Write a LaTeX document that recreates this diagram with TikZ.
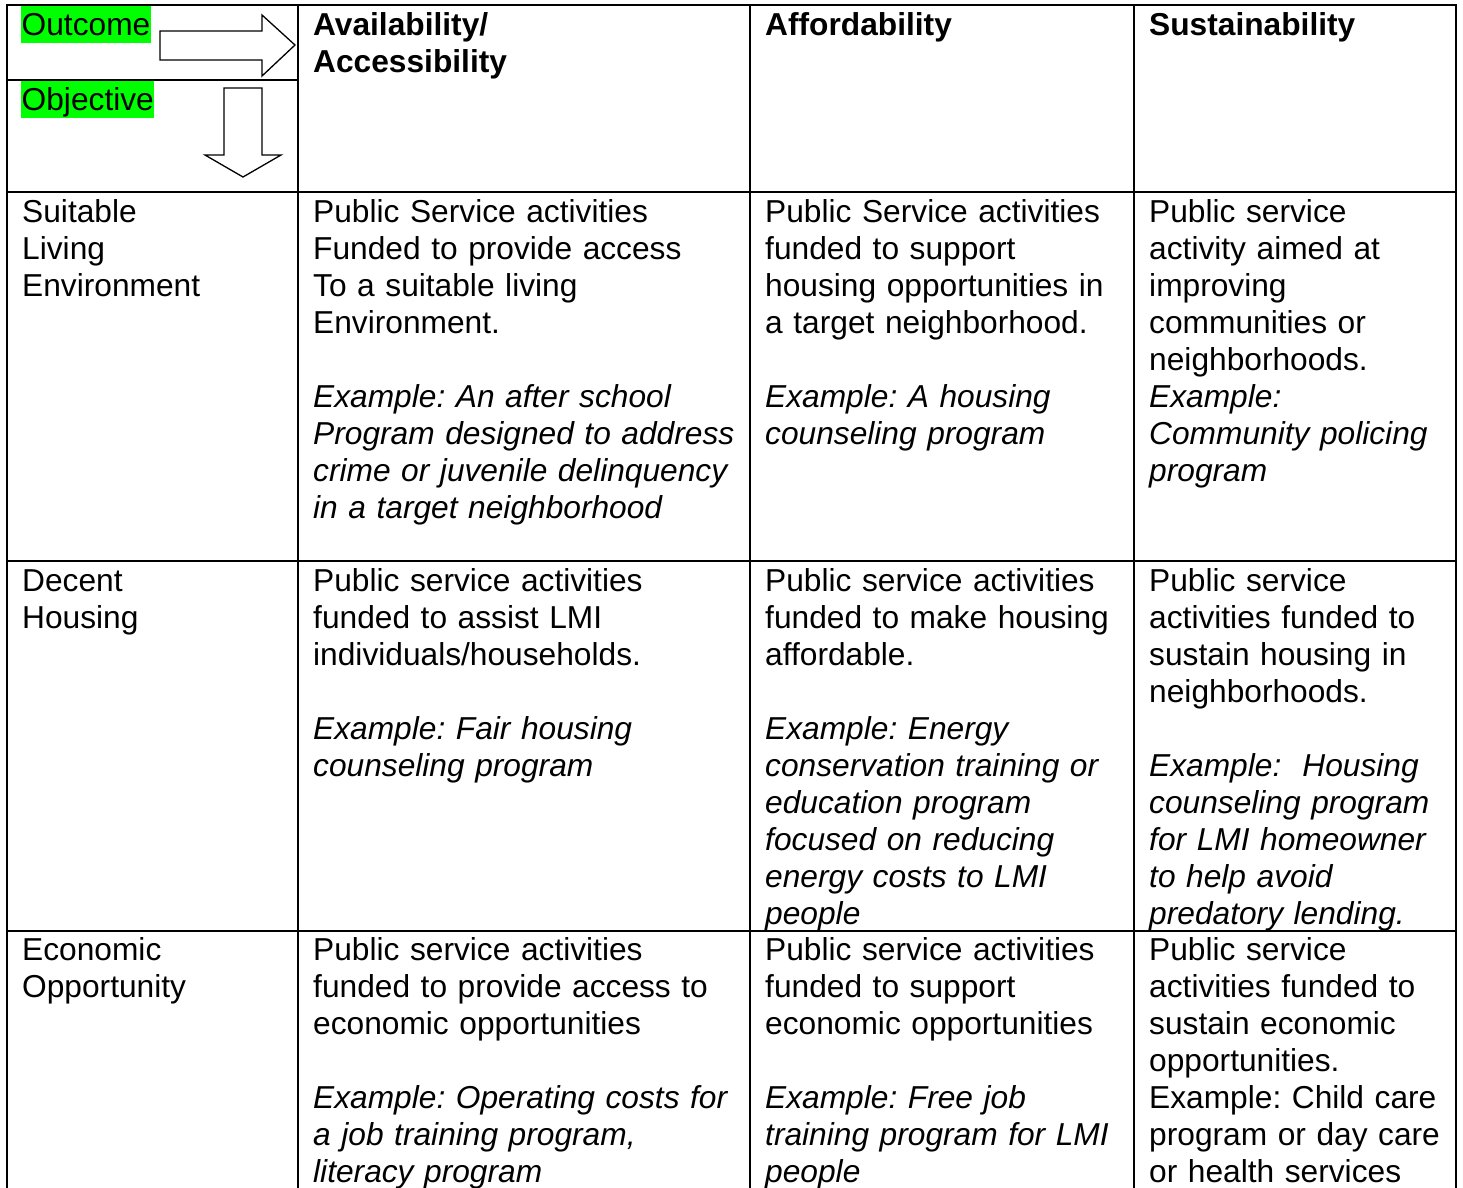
\documentclass[tikz,border=0pt]{standalone}
\usepackage{fontspec}
\setmainfont{Liberation Sans}
\definecolor{hlgreen}{RGB}{0,255,0}
\newcommand\firststrut{\rule{0pt}{29pt}}
\setlength\parindent{0pt}
\frenchspacing
\begin{document}
\frenchspacing
\begin{tikzpicture}[x=1pt,y=-1pt,
  grid/.style={line width=2pt, line cap=rect},
  arrowshape/.style={draw, line width=1.3pt, fill=white, line join=miter},
  cell/.style={anchor=north west, inner sep=0pt, text width=#1, align=left,
    font=\fontsize{31.7}{37}\selectfont\frenchspacing},
  hl/.style={anchor=north west, fill=hlgreen, inner ysep=0pt, inner xsep=0.5pt,
    text height=29pt, text depth=8pt, font=\fontsize{31.7}{37}\selectfont}]
\useasboundingbox (0,0) rectangle (1463,1187);
\fill[white] (0,0) rectangle (1463,1187);

% grid
\draw[grid] (7,1195) -- (7,5) -- (1456,5) -- (1456,1195);
\draw[grid] (298,5) -- (298,1195);
\draw[grid] (750,5) -- (750,1195);
\draw[grid] (1134,5) -- (1134,1195);
\draw[grid] (7,80) -- (298,80);
\draw[grid] (7,192) -- (1456,192);
\draw[grid] (7,561) -- (1456,561);
\draw[grid] (7,931) -- (1456,931);

% corner labels and arrows
\node[hl] (outcome) at (21,6) {Outcome};
\node[hl] (objective) at (21,81) {Objective};
\draw[arrowshape] (160,31) -- (262,31) -- (262,15) -- (295,45) -- (262,76) -- (262,60) -- (160,60) -- cycle;
\draw[arrowshape] (224,88) -- (262,88) -- (262,155) -- (281,155) -- (243,177) -- (205,155) -- (224,155) -- cycle;

% header
\node[cell=430pt] (hA) at (313,6) {\bfseries\firststrut Availability/\\Accessibility};
\node[cell=370pt] (hB) at (765,6) {\bfseries\firststrut Affordability};
\node[cell=310pt] (hC) at (1149,6) {\bfseries\firststrut Sustainability};

% row 1
\node[cell=270pt] (r1c1) at (22,193) {\firststrut Suitable\\Living\\Environment};
\node[cell=440pt] (r1c2) at (313,193) {\firststrut Public Service activities\\Funded to provide access\\To a suitable living\\Environment.\\[37pt]\itshape Example: An after school\\Program designed to address\\crime or juvenile delinquency\\in a target neighborhood};
\node[cell=380pt] (r1c3) at (765,193) {\firststrut Public Service activities\\funded to support\\housing opportunities in\\a target neighborhood.\\[37pt]\itshape Example: A housing\\counseling program};
\node[cell=310pt] (r1c4) at (1149,193) {\firststrut Public service\\activity aimed at\\improving\\communities or\\neighborhoods.\\\itshape Example:\\Community policing\\program};

% row 2
\node[cell=270pt] (r2c1) at (22,562) {\firststrut Decent\\Housing};
\node[cell=440pt] (r2c2) at (313,562) {\firststrut Public service activities\\funded to assist LMI\\individuals/households.\\[37pt]\itshape Example: Fair housing\\counseling program};
\node[cell=380pt] (r2c3) at (765,562) {\firststrut Public service activities\\funded to make housing\\affordable.\\[37pt]\itshape Example: Energy\\conservation training or\\education program\\focused on reducing\\energy costs to LMI\\people};
\node[cell=310pt] (r2c4) at (1149,562) {\firststrut Public service\\activities funded to\\sustain housing in\\neighborhoods.\\[37pt]\itshape Example:\ \ Housing\\counseling program\\for LMI homeowner\\to help avoid\\predatory lending.};

% row 3
\node[cell=270pt] (r3c1) at (22,931) {\firststrut Economic\\Opportunity};
\node[cell=440pt] (r3c2) at (313,931) {\firststrut Public service activities\\funded to provide access to\\economic opportunities\\[37pt]\itshape Example: Operating costs for\\a job training program,\\literacy program};
\node[cell=380pt] (r3c3) at (765,931) {\firststrut Public service activities\\funded to support\\economic opportunities\\[37pt]\itshape Example: Free job\\training program for LMI\\people};
\node[cell=310pt] (r3c4) at (1149,931) {\firststrut Public service\\activities funded to\\sustain economic\\opportunities.\\Example: Child care\\program or day care\\or health services};
\end{tikzpicture}
\end{document}
